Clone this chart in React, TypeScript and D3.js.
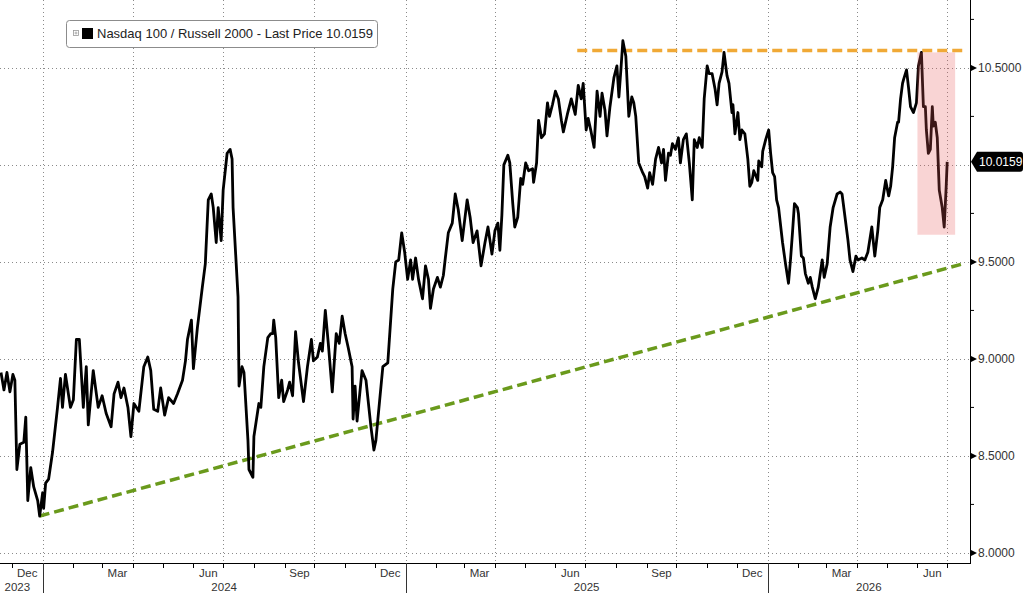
import { useMemo } from "react"
import * as d3 from "d3"

const WIDTH = 1024
const HEIGHT = 593

// visible window of the chart
const xStart = "2023-11-19"
const xEnd = "2026-07-24"
const yMin = 7.948
const yMax = 10.85

const yGridTicks = [8, 8.5, 9, 9.5, 10, 10.5]
const yMajorLabels = [8, 8.5, 9, 9.5, 10.5]
const yMinorTicks = [8.25, 8.75, 9.25, 9.75, 10.25, 10.75]
const monthLabelMonths = [11, 2, 5, 8] // Dec, Mar, Jun, Sep
const yearLabels = [2023, 2024, 2025, 2026]

const legendLabel = "Nasdaq 100 / Russell 2000 - Last Price 10.0159"
const lastPrice = 10.0159

const resistanceLine: [string, number][] = [
  ["2025-06-23", 10.59],
  ["2026-07-17", 10.59],
]
const supportLine: [string, number][] = [
  ["2023-12-29", 8.19],
  ["2026-07-17", 9.49],
]
const highlightFrom = "2026-06-01"
const highlightTo = "2026-07-09"
const highlightLow = 9.64
const highlightHigh = 10.58

// Nasdaq 100 / Russell 2000 ratio
const ratioSeries: [string, number][] = [
  ["2023-11-20", 8.93], ["2023-11-23", 8.84], ["2023-11-26", 8.93], ["2023-11-29", 8.83],
  ["2023-12-02", 8.92], ["2023-12-04", 8.89], ["2023-12-06", 8.43], ["2023-12-09", 8.56],
  ["2023-12-13", 8.57], ["2023-12-15", 8.7], ["2023-12-17", 8.27], ["2023-12-20", 8.44],
  ["2023-12-23", 8.34], ["2023-12-27", 8.27], ["2023-12-29", 8.19], ["2024-01-01", 8.31],
  ["2024-01-02", 8.23], ["2024-01-04", 8.36], ["2024-01-07", 8.38], ["2024-01-11", 8.52],
  ["2024-01-16", 8.75], ["2024-01-19", 8.9], ["2024-01-21", 8.75], ["2024-01-24", 8.92],
  ["2024-01-29", 8.75], ["2024-02-01", 8.79], ["2024-02-04", 9.1], ["2024-02-07", 9.1],
  ["2024-02-11", 8.75], ["2024-02-14", 8.96], ["2024-02-16", 8.66], ["2024-02-21", 8.94],
  ["2024-02-26", 8.75], ["2024-03-01", 8.81], ["2024-03-05", 8.72], ["2024-03-10", 8.65],
  ["2024-03-13", 8.82], ["2024-03-17", 8.88], ["2024-03-20", 8.8], ["2024-03-23", 8.85],
  ["2024-03-27", 8.75], ["2024-03-30", 8.6], ["2024-04-02", 8.77], ["2024-04-07", 8.73],
  ["2024-04-12", 8.96], ["2024-04-16", 9.01], ["2024-04-19", 8.94], ["2024-04-22", 8.74],
  ["2024-04-26", 8.73], ["2024-04-29", 8.85], ["2024-05-03", 8.71], ["2024-05-07", 8.8],
  ["2024-05-12", 8.77], ["2024-05-16", 8.82], ["2024-05-21", 8.89], ["2024-05-24", 8.99],
  ["2024-05-26", 9.1], ["2024-05-30", 9.2], ["2024-06-01", 8.95], ["2024-06-05", 9.16],
  ["2024-06-10", 9.37], ["2024-06-13", 9.49], ["2024-06-16", 9.82], ["2024-06-19", 9.85],
  ["2024-06-21", 9.78], ["2024-06-24", 9.6], ["2024-06-26", 9.78], ["2024-06-29", 9.61],
  ["2024-07-01", 9.87], ["2024-07-05", 10.06], ["2024-07-08", 10.08], ["2024-07-10", 10.03],
  ["2024-07-11", 9.78], ["2024-07-16", 9.32], ["2024-07-17", 8.86], ["2024-07-20", 8.96],
  ["2024-07-22", 8.93], ["2024-07-26", 8.58], ["2024-07-27", 8.43], ["2024-07-31", 8.39],
  ["2024-08-01", 8.6], ["2024-08-06", 8.77], ["2024-08-08", 8.75], ["2024-08-11", 8.96],
  ["2024-08-15", 9.11], ["2024-08-18", 9.13], ["2024-08-20", 9.13], ["2024-08-21", 9.2],
  ["2024-08-23", 9.11], ["2024-08-26", 8.8], ["2024-08-29", 8.89], ["2024-08-31", 8.78],
  ["2024-09-04", 8.84], ["2024-09-06", 8.88], ["2024-09-09", 8.81], ["2024-09-12", 9.14],
  ["2024-09-15", 8.98], ["2024-09-20", 8.78], ["2024-09-24", 8.96], ["2024-09-28", 9.1],
  ["2024-09-30", 8.99], ["2024-10-04", 9.01], ["2024-10-07", 9.08], ["2024-10-09", 9.04],
  ["2024-10-12", 9.25], ["2024-10-15", 9.08], ["2024-10-19", 8.83], ["2024-10-23", 9.13],
  ["2024-10-26", 9.08], ["2024-10-29", 9.22], ["2024-11-01", 9.13], ["2024-11-04", 9.06],
  ["2024-11-08", 8.96], ["2024-11-09", 8.69], ["2024-11-11", 8.86], ["2024-11-13", 8.68],
  ["2024-11-18", 8.94], ["2024-11-22", 8.89], ["2024-11-27", 8.65], ["2024-11-30", 8.53],
  ["2024-12-02", 8.58], ["2024-12-04", 8.69], ["2024-12-09", 8.96], ["2024-12-14", 8.98],
  ["2024-12-19", 9.36], ["2024-12-22", 9.5], ["2024-12-25", 9.51], ["2024-12-28", 9.65],
  ["2024-12-31", 9.55], ["2025-01-03", 9.41], ["2025-01-06", 9.51], ["2025-01-08", 9.41],
  ["2025-01-11", 9.52], ["2025-01-14", 9.41], ["2025-01-18", 9.31], ["2025-01-21", 9.48],
  ["2025-01-24", 9.41], ["2025-01-26", 9.26], ["2025-01-29", 9.36], ["2025-02-02", 9.42],
  ["2025-02-05", 9.37], ["2025-02-08", 9.43], ["2025-02-10", 9.52], ["2025-02-13", 9.65],
  ["2025-02-17", 9.7], ["2025-02-20", 9.85], ["2025-02-23", 9.77], ["2025-02-27", 9.61],
  ["2025-03-04", 9.82], ["2025-03-07", 9.73], ["2025-03-10", 9.6], ["2025-03-14", 9.66],
  ["2025-03-18", 9.48], ["2025-03-22", 9.6], ["2025-03-25", 9.68], ["2025-03-29", 9.54],
  ["2025-04-01", 9.66], ["2025-04-04", 9.7], ["2025-04-06", 9.56], ["2025-04-08", 9.74],
  ["2025-04-10", 10.0], ["2025-04-14", 10.05], ["2025-04-16", 10.01], ["2025-04-19", 9.8],
  ["2025-04-21", 9.68], ["2025-04-24", 9.73], ["2025-04-27", 9.93], ["2025-04-29", 9.9],
  ["2025-05-02", 10.01], ["2025-05-05", 9.97], ["2025-05-09", 9.98], ["2025-05-10", 9.91],
  ["2025-05-13", 10.01], ["2025-05-15", 10.23], ["2025-05-18", 10.14], ["2025-05-21", 10.16],
  ["2025-05-24", 10.32], ["2025-05-26", 10.25], ["2025-05-29", 10.31], ["2025-06-01", 10.38],
  ["2025-06-04", 10.34], ["2025-06-07", 10.23], ["2025-06-09", 10.17], ["2025-06-13", 10.26],
  ["2025-06-17", 10.34], ["2025-06-21", 10.26], ["2025-06-24", 10.41], ["2025-06-27", 10.34],
  ["2025-06-29", 10.42], ["2025-07-02", 10.18], ["2025-07-04", 10.24], ["2025-07-07", 10.17],
  ["2025-07-10", 10.09], ["2025-07-13", 10.38], ["2025-07-16", 10.25], ["2025-07-18", 10.37],
  ["2025-07-21", 10.28], ["2025-07-23", 10.15], ["2025-07-26", 10.3], ["2025-07-30", 10.45],
  ["2025-08-02", 10.51], ["2025-08-04", 10.35], ["2025-08-06", 10.49], ["2025-08-08", 10.64],
  ["2025-08-11", 10.56], ["2025-08-14", 10.25], ["2025-08-17", 10.35], ["2025-08-19", 10.32],
  ["2025-08-21", 10.25], ["2025-08-24", 10.01], ["2025-08-28", 9.96], ["2025-08-30", 9.94],
  ["2025-09-02", 9.88], ["2025-09-04", 9.96], ["2025-09-07", 9.9], ["2025-09-10", 10.03],
  ["2025-09-13", 10.09], ["2025-09-16", 10.01], ["2025-09-18", 10.08], ["2025-09-20", 9.92],
  ["2025-09-23", 10.06], ["2025-09-25", 10.05], ["2025-09-27", 10.11], ["2025-09-30", 10.08],
  ["2025-10-03", 10.14], ["2025-10-05", 10.01], ["2025-10-08", 10.13], ["2025-10-11", 10.16],
  ["2025-10-14", 10.01], ["2025-10-17", 9.82], ["2025-10-19", 10.13], ["2025-10-22", 10.09],
  ["2025-10-24", 10.14], ["2025-10-27", 10.09], ["2025-10-29", 10.34], ["2025-11-01", 10.51],
  ["2025-11-03", 10.47], ["2025-11-06", 10.47], ["2025-11-09", 10.39], ["2025-11-11", 10.31],
  ["2025-11-13", 10.42], ["2025-11-16", 10.48], ["2025-11-18", 10.58], ["2025-11-21", 10.46],
  ["2025-11-23", 10.42], ["2025-11-26", 10.27], ["2025-11-27", 10.31], ["2025-11-29", 10.16],
  ["2025-12-02", 10.27], ["2025-12-04", 10.13], ["2025-12-06", 10.18], ["2025-12-09", 10.16],
  ["2025-12-12", 10.03], ["2025-12-14", 9.89], ["2025-12-16", 9.91], ["2025-12-18", 9.97],
  ["2025-12-22", 9.92], ["2025-12-23", 10.02], ["2025-12-26", 9.99], ["2025-12-27", 10.07],
  ["2025-12-30", 10.13], ["2026-01-02", 10.18], ["2026-01-04", 10.06], ["2026-01-06", 9.96],
  ["2026-01-08", 9.94], ["2026-01-10", 9.82], ["2026-01-12", 9.78], ["2026-01-16", 9.6],
  ["2026-01-19", 9.49], ["2026-01-22", 9.39], ["2026-01-24", 9.51], ["2026-01-26", 9.65],
  ["2026-01-28", 9.8], ["2026-01-31", 9.78], ["2026-02-01", 9.75], ["2026-02-04", 9.53],
  ["2026-02-06", 9.52], ["2026-02-08", 9.44], ["2026-02-11", 9.39], ["2026-02-13", 9.42],
  ["2026-02-15", 9.37], ["2026-02-18", 9.31], ["2026-02-21", 9.37], ["2026-02-23", 9.44],
  ["2026-02-25", 9.51], ["2026-02-27", 9.42], ["2026-03-02", 9.49], ["2026-03-05", 9.68],
  ["2026-03-08", 9.78], ["2026-03-12", 9.85], ["2026-03-15", 9.86], ["2026-03-17", 9.85],
  ["2026-03-19", 9.77], ["2026-03-23", 9.61], ["2026-03-25", 9.51], ["2026-03-28", 9.45],
  ["2026-03-31", 9.53], ["2026-04-02", 9.51], ["2026-04-06", 9.52], ["2026-04-09", 9.51],
  ["2026-04-12", 9.55], ["2026-04-16", 9.68], ["2026-04-19", 9.53], ["2026-04-22", 9.66],
  ["2026-04-24", 9.78], ["2026-04-27", 9.82], ["2026-04-30", 9.92], ["2026-05-03", 9.84],
  ["2026-05-05", 9.89], ["2026-05-07", 9.99], ["2026-05-09", 10.14], ["2026-05-12", 10.22],
  ["2026-05-13", 10.22], ["2026-05-15", 10.34], ["2026-05-17", 10.42], ["2026-05-18", 10.44],
  ["2026-05-21", 10.49], ["2026-05-23", 10.4], ["2026-05-25", 10.3], ["2026-05-28", 10.27],
  ["2026-05-31", 10.32], ["2026-06-02", 10.51], ["2026-06-05", 10.58], ["2026-06-07", 10.3],
  ["2026-06-09", 10.3], ["2026-06-10", 10.18], ["2026-06-12", 10.06], ["2026-06-14", 10.08],
  ["2026-06-16", 10.3], ["2026-06-17", 10.2], ["2026-06-19", 10.22], ["2026-06-21", 10.14],
  ["2026-06-23", 9.87], ["2026-06-26", 9.78], ["2026-06-28", 9.68], ["2026-06-30", 9.89],
  ["2026-07-01", 10.0159],
]

const FONT = "'Liberation Sans', Arial, sans-serif"
const parseDate = d3.timeParse("%Y-%m-%d")

export default function App() {
  const plotRight = 970
  const plotBottom = 563

  const xScale = useMemo(
    () => d3.scaleTime().domain([parseDate(xStart)!, parseDate(xEnd)!]).range([0, plotRight]),
    [],
  )
  const yScale = useMemo(() => d3.scaleLinear().domain([yMin, yMax]).range([plotBottom, 0]), [])

  const lineGen = d3
    .line<[string, number]>()
    .x((d) => xScale(parseDate(d[0])!))
    .y((d) => yScale(d[1]))

  const [d0, d1] = xScale.domain()
  const months = d3.timeMonth.range(d3.timeMonth.ceil(d0), d1)
  const quarterLines = months.filter((m) => m.getMonth() % 3 === 0)
  const monthLabels = months.filter(
    (m) => monthLabelMonths.includes(m.getMonth()) && d3.timeMonth.offset(m, 1) <= d1,
  )
  const yearStarts = months.filter((m) => m.getMonth() === 0)

  const fmt = d3.format(".4f")
  const lastY = yScale(lastPrice)

  return (
    <svg
      width={WIDTH}
      height={HEIGHT}
      style={{ position: "absolute", left: 0, top: 0, background: "#fff", fontFamily: FONT }}
    >
      <rect x={0} y={0} width={WIDTH} height={HEIGHT} fill="#fff" />

      {/* grid */}
      <g stroke="#8a8a8a" strokeWidth={1} strokeDasharray="1 3">
        {yGridTicks.map((v) => (
          <line key={`h${v}`} x1={0} x2={plotRight} y1={Math.round(yScale(v)) + 0.5} y2={Math.round(yScale(v)) + 0.5} />
        ))}
        {quarterLines.map((m) => (
          <line
            key={`v${+m}`}
            x1={Math.round(xScale(m)) + 0.5}
            x2={Math.round(xScale(m)) + 0.5}
            y1={0}
            y2={plotBottom}
          />
        ))}
      </g>

      {/* trend lines */}
      <path
        d={lineGen(supportLine) ?? ""}
        fill="none"
        stroke="#6a9a1c"
        strokeWidth={3.5}
        strokeDasharray="10 5"
      />
      <path
        d={lineGen(resistanceLine) ?? ""}
        fill="none"
        stroke="#f0a936"
        strokeWidth={3.5}
        strokeDasharray="10 5"
      />

      {/* ratio series */}
      <path
        d={lineGen(ratioSeries) ?? ""}
        fill="none"
        stroke="#000"
        strokeWidth={2.8}
        strokeLinejoin="round"
      />

      {/* highlighted pullback */}
      <rect
        x={xScale(parseDate(highlightFrom)!)}
        y={yScale(highlightHigh)}
        width={xScale(parseDate(highlightTo)!) - xScale(parseDate(highlightFrom)!)}
        height={yScale(highlightLow) - yScale(highlightHigh)}
        fill="rgb(232,90,90)"
        fillOpacity={0.26}
      />

      {/* right axis */}
      <line x1={plotRight + 0.5} x2={plotRight + 0.5} y1={0} y2={plotBottom} stroke="#000" strokeWidth={1} />
      {yMinorTicks.map((v) => (
        <line key={`mn${v}`} x1={plotRight} x2={plotRight + 4} y1={yScale(v)} y2={yScale(v)} stroke="#000" />
      ))}
      {yMajorLabels.map((v) => {
        const y = yScale(v)
        return (
          <g key={`lb${v}`}>
            <path d={`M${plotRight},${y - 3.5} L${plotRight + 7},${y} L${plotRight},${y + 3.5} Z`} fill="#000" />
            <text x={plotRight + 8} y={y} dy="0.35em" fontSize={12} fill="#333">
              {fmt(v)}
            </text>
          </g>
        )
      })}
      <path
        d={`M${plotRight + 1},${lastY} L${plotRight + 7},${lastY - 10} L${1020},${lastY - 10} Q${1023},${lastY - 10} ${1023},${lastY - 7} L${1023},${lastY + 7} Q${1023},${lastY + 10} ${1020},${lastY + 10} L${plotRight + 7},${lastY + 10} Z`}
        fill="#000"
      />
      <text x={plotRight + 9} y={lastY} dy="0.35em" fontSize={12} fill="#fff">
        {fmt(lastPrice)}
      </text>

      {/* bottom axis */}
      <line x1={0} x2={plotRight + 1} y1={plotBottom + 0.5} y2={plotBottom + 0.5} stroke="#000" />
      {months.map((m) => (
        <line
          key={`t${+m}`}
          x1={Math.round(xScale(m)) + 0.5}
          x2={Math.round(xScale(m)) + 0.5}
          y1={plotBottom}
          y2={plotBottom + 5}
          stroke="#000"
        />
      ))}
      {yearStarts.map((m) => (
        <line
          key={`y${+m}`}
          x1={Math.round(xScale(m)) + 0.5}
          x2={Math.round(xScale(m)) + 0.5}
          y1={plotBottom}
          y2={HEIGHT}
          stroke="#333"
        />
      ))}
      {monthLabels.map((m) => {
        const cx = (xScale(m) + xScale(d3.timeMonth.offset(m, 1))) / 2
        return (
          <text key={`ml${+m}`} x={cx} y={577} textAnchor="middle" fontSize={11.5} fill="#333">
            {d3.timeFormat("%b")(m)}
          </text>
        )
      })}
      {yearLabels.map((yr) => {
        const a = Math.max(0, xScale(new Date(yr, 0, 1)))
        const b = Math.min(plotRight, xScale(new Date(yr + 1, 0, 1)))
        return (
          <text key={`yl${yr}`} x={(a + b) / 2 - (a === 0 ? 4 : 0)} y={590.5} textAnchor="middle" fontSize={11.5} fill="#333">
            {yr}
          </text>
        )
      })}

      {/* legend */}
      <g>
        <rect x={66.5} y={20.5} width={311} height={27} rx={3} fill="#fff" stroke="#8c8c8c" />
        <rect x={73.5} y={30.5} width={5} height={5} fill="none" stroke="#999" strokeWidth={0.8} />
        <line x1={74.5} x2={77.5} y1={33} y2={33} stroke="#999" strokeWidth={0.8} />
        <line x1={76} x2={76} y1={31.5} y2={34.5} stroke="#999" strokeWidth={0.8} />
        <rect x={82} y={28} width={11} height={11} fill="#000" />
        <text x={97} y={38} fontSize={13} fill="#222">
          {legendLabel}
        </text>
      </g>
    </svg>
  )
}
